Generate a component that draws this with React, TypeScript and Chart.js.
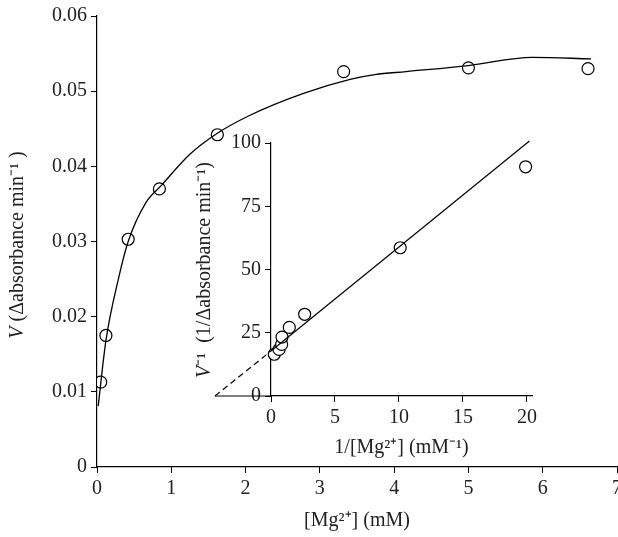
import { useEffect, useRef } from "react"
import { Chart, registerables } from "chart.js"

Chart.register(...registerables)

// main plot: V vs [Mg2+]
const mgConc = [0.05, 0.12, 0.42, 0.84, 1.62, 3.32, 5.0, 6.61]
const velocity = [0.0113, 0.0175, 0.0303, 0.037, 0.0442, 0.0526, 0.0531, 0.053]
const curveX = [0.016, 0.12, 0.29, 0.42, 0.66, 0.87, 1.25, 1.62, 2.04, 2.78, 3.42, 3.74, 4.16, 5.0, 5.86, 6.65]
const curveY = [0.0081, 0.0168, 0.0251, 0.0300, 0.0352, 0.0375, 0.0416, 0.0444, 0.0467, 0.0497, 0.0516, 0.0522, 0.0526, 0.0534, 0.0545, 0.0543]

// inset: double reciprocal
const invMg = [0.26, 0.63, 0.83, 0.86, 1.43, 2.63, 10.1, 19.9]
const invV = [16.5, 18.4, 20.4, 23.3, 27.1, 32.3, 58.6, 90.6]
const fitX = [0, 20.2]
const fitY = [17.8, 100.8]
const extrapX = [-4.38, 0]
const extrapY = [0, 17.8]
const insetXMin = -4.38
const insetTicks = [0, 5, 10, 15, 20]

const FONT = "'Times New Roman', 'Liberation Serif', serif"
const tickFont = { family: FONT, size: 20 }
const marker = {
  pointRadius: 6,
  pointBackgroundColor: "#fff",
  pointBorderColor: "#000",
  pointBorderWidth: 1.2,
  showLine: false,
}

const titlesPlugin = {
  id: "yTitles",
  afterDraw(chart: Chart) {
    const ctx = chart.ctx
    const draw = (x: number, y: number, parts: [string, boolean][]) => {
      ctx.save()
      ctx.translate(x, y)
      ctx.rotate(-Math.PI / 2)
      ctx.fillStyle = "#222"
      ctx.textBaseline = "middle"
      let total = 0
      for (const [t, it] of parts) {
        ctx.font = `${it ? "italic " : ""}20px ${FONT}`
        total += ctx.measureText(t).width
      }
      let cx = -total / 2
      for (const [t, it] of parts) {
        ctx.font = `${it ? "italic " : ""}20px ${FONT}`
        ctx.fillText(t, cx, 0)
        cx += ctx.measureText(t).width
      }
      ctx.restore()
    }
    draw(18, 245, [["V", true], [" (Δabsorbance min⁻¹ )", false]])
    draw(205, 270, [["V", true], ["⁻¹  (1/Δabsorbance min⁻¹)", false]])
  },
}

function MainChart() {
  const ref = useRef<HTMLCanvasElement>(null)
  useEffect(() => {
    if (!ref.current) return
    const chart = new Chart(ref.current, {
      type: "scatter",
      data: {
        datasets: [
          {
            data: curveX.map((x, i) => ({ x, y: curveY[i] })),
            showLine: true,
            borderColor: "#000",
            borderWidth: 1.3,
            pointRadius: 0,
            cubicInterpolationMode: "monotone",
          },
          { data: mgConc.map((x, i) => ({ x, y: velocity[i] })), ...marker },
        ],
      },
      options: {
        animation: false,
        responsive: false,
        layout: { padding: { left: 0, top: 12, right: 0, bottom: 0 } },
        plugins: { legend: { display: false }, tooltip: { enabled: false } },
        scales: {
          x: {
            min: 0,
            max: 7,
            ticks: { stepSize: 1, color: "#222", font: tickFont, padding: 4 },
            grid: { drawOnChartArea: false, tickLength: 6, color: "#000" },
            border: { color: "#000", width: 1.2 },
            title: { display: true, text: "[Mg²⁺] (mM)", color: "#222", font: tickFont, padding: { top: 4 } },
          },
          y: {
            min: 0,
            max: 0.06,
            ticks: { stepSize: 0.01, color: "#222", font: tickFont, padding: 4, callback: (v) => (v === 0 ? "0" : Number(v).toFixed(2)) },
            grid: { drawOnChartArea: false, tickLength: 6, color: "#000" },
            border: { color: "#000", width: 1.2 },
            afterFit: (s) => {
              s.width = 97
            },
          },
        },
      },
      plugins: [titlesPlugin],
    })
    return () => chart.destroy()
  }, [])
  return <canvas ref={ref} width={626} height={537} style={{ position: "absolute", left: 0, top: 0 }} />
}

function InsetChart() {
  const ref = useRef<HTMLCanvasElement>(null)
  useEffect(() => {
    if (!ref.current) return
    const chart = new Chart(ref.current, {
      type: "scatter",
      data: {
        datasets: [
          {
            data: fitX.map((x, i) => ({ x, y: fitY[i] })),
            showLine: true,
            borderColor: "#000",
            borderWidth: 1.2,
            pointRadius: 0,
            clip: false,
          },
          {
            data: extrapX.map((x, i) => ({ x, y: extrapY[i] })),
            showLine: true,
            borderColor: "#000",
            borderWidth: 1.2,
            borderDash: [6, 4],
            pointRadius: 0,
            clip: false,
          },
          {
            // x-axis line continued to the left of the y axis
            data: [{ x: insetXMin, y: 0 }, { x: 0, y: 0 }],
            showLine: true,
            borderColor: "#000",
            borderWidth: 1.2,
            pointRadius: 0,
            clip: false,
          },
          { data: invMg.map((x, i) => ({ x, y: invV[i] })), ...marker, clip: false },
        ],
      },
      options: {
        animation: false,
        responsive: false,
        layout: { padding: { left: 81, top: 23, right: 18, bottom: 0 } },
        plugins: { legend: { display: false }, tooltip: { enabled: false } },
        scales: {
          x: {
            min: 0,
            max: 20.4,
            afterBuildTicks: (s) => {
              s.ticks = insetTicks.map((value) => ({ value }))
            },
            ticks: { color: "#222", font: tickFont, padding: 4 },
            grid: { drawOnChartArea: false, tickLength: 6, color: "#000" },
            border: { color: "#000", width: 1.2 },
            title: { display: true, text: "1/[Mg²⁺] (mM⁻¹)", color: "#222", font: tickFont, padding: 0 },
            afterFit: (s) => {
              s.height = 64
            },
          },
          y: {
            min: 0,
            max: 100,
            ticks: { stepSize: 25, color: "#222", font: tickFont, padding: 4 },
            grid: { drawOnChartArea: false, tickLength: 6, color: "#000" },
            border: { color: "#000", width: 1.2 },
            afterFit: (s) => {
              s.width = 40
            },
          },
        },
      },
    })
    return () => chart.destroy()
  }, [])
  return <canvas ref={ref} width={400} height={340} style={{ position: "absolute", left: 150, top: 120 }} />
}

export default function App() {
  useEffect(() => {
    document.body.style.margin = "0"
  }, [])
  return (
    <div style={{ position: "relative", width: 618, height: 537, overflow: "hidden", background: "#fff" }}>
      <MainChart />
      <InsetChart />
    </div>
  )
}
